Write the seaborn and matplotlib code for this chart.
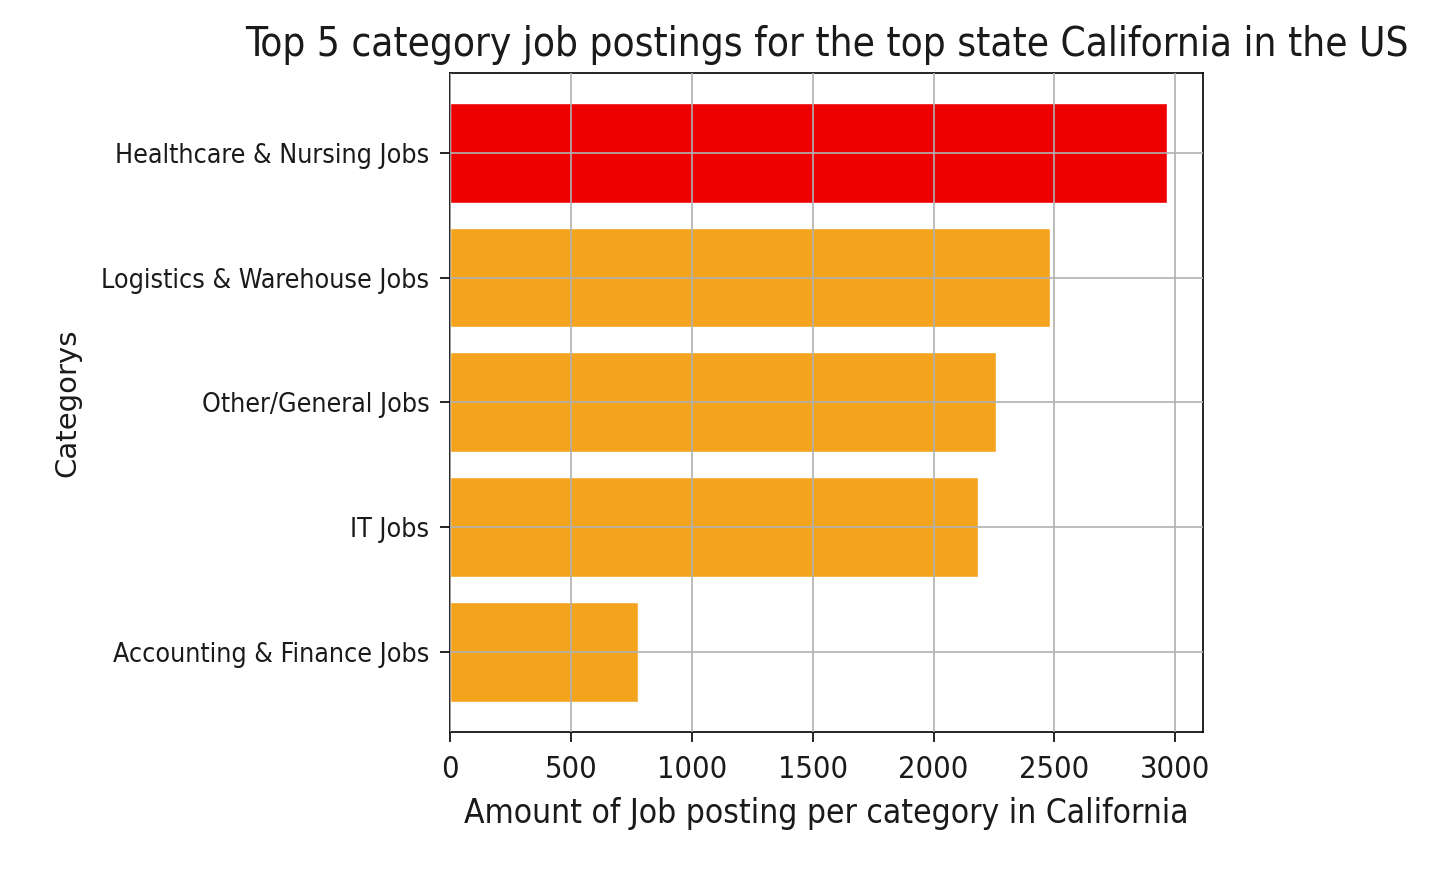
import matplotlib
matplotlib.use('Agg')
import matplotlib.pyplot as plt
import seaborn as sns
import pandas as pd

categories = ['Healthcare & Nursing Jobs', 'Logistics & Warehouse Jobs',
              'Other/General Jobs', 'IT Jobs', 'Accounting & Finance Jobs']
counts = [2967, 2481, 2257, 2183, 776]
bar_colors = ['#ee0000', '#f4a31c', '#f4a31c', '#f4a31c', '#f4a31c']

df = pd.DataFrame({'category': categories, 'count': counts})

sns.set_style('white')
plt.rcParams['font.family'] = ['DejaVu Sans']
plt.rcParams['text.color'] = '#1a1a1a'
plt.rcParams['axes.labelcolor'] = '#1a1a1a'
plt.rcParams['xtick.color'] = '#1a1a1a'
plt.rcParams['ytick.color'] = '#1a1a1a'

fig = plt.figure(figsize=(14.53, 8.89), dpi=100)
ax = fig.add_axes([0.31, 0.177, 0.518, 0.741])

sns.barplot(data=df, x='count', y='category', hue='category',
            palette=bar_colors, width=0.8, saturation=1, legend=False, ax=ax)

ax.set_xlim(0, 3115)
ax.set_ylim(4.64, -0.64)
ax.grid(True, color='#b0b0b0', linewidth=1.2)
ax.set_axisbelow(False)
for s in ax.spines.values():
    s.set_color('black')
    s.set_linewidth(1.2)
ax.tick_params(axis='both', direction='out', length=7, width=1.2, color='black',
               left=True, bottom=True)
ax.tick_params(axis='y', pad=8)
ax.tick_params(axis='x', pad=10)

for lbl in ax.get_yticklabels():
    lbl.set_fontsize(19.2)
    lbl.set_fontstretch('condensed')
for lbl in ax.get_xticklabels():
    lbl.set_fontsize(22)
    lbl.set_fontstretch('condensed')

ax.set_xlabel('Amount of Job posting per category in California', fontsize=24,
              fontstretch='condensed', labelpad=9)
ax.set_ylabel('Categorys', fontsize=21)
ax.yaxis.set_label_coords(-0.49, 0.5)
ax.set_title('Top 5 category job postings for the top state California in the US',
             fontsize=29, fontstretch='condensed', pad=12)

fig.savefig('out.png', dpi=100)
